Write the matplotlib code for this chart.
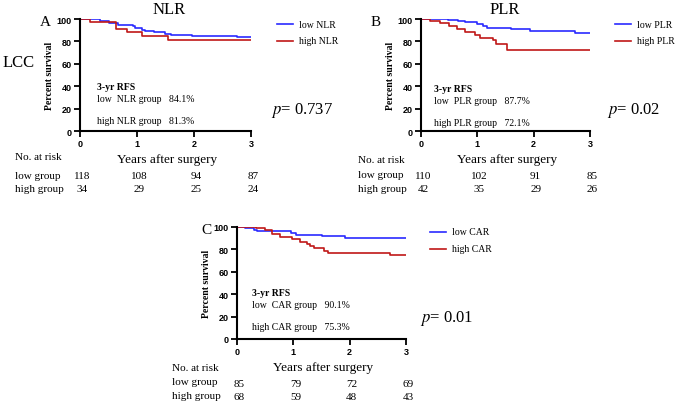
import numpy as np
import matplotlib.pyplot as plt

plt.rcParams['mathtext.fontset'] = 'stix'

# Kaplan-Meier step data (years, percent survival)
nlr_low_t = [0, 0.35, 0.5, 0.67, 0.93, 0.96, 1.08, 1.14, 1.29, 1.49, 1.6, 1.96, 2.75, 3]
nlr_low_s = [100, 98, 96.5, 95, 93.5, 92, 90.5, 89.5, 88, 87, 86, 85, 84.1, 84.1]
nlr_high_t = [0, 0.18, 0.64, 0.82, 1.08, 1.55, 3]
nlr_high_s = [100, 97, 91, 88, 85, 81.3, 81.3]

plr_low_t = [0, 0.48, 0.66, 0.78, 0.99, 1.1, 1.17, 1.6, 1.93, 2.73, 3]
plr_low_s = [100, 99, 98, 97, 95.5, 94, 92, 91, 89, 87.7, 87.7]
plr_high_t = [0, 0.16, 0.34, 0.49, 0.64, 0.78, 0.96, 1.05, 1.28, 1.34, 1.52, 3]
plr_high_s = [100, 98, 96, 94, 91, 88, 86, 83, 81, 78, 72.1, 72.1]

car_low_t = [0, 0.15, 0.3, 0.36, 0.95, 1.04, 1.5, 1.92, 3]
car_low_s = [100, 99, 97, 96, 95, 93, 92, 90.1, 90.1]
car_high_t = [0, 0.33, 0.5, 0.62, 0.77, 0.98, 1.12, 1.24, 1.3, 1.37, 1.54, 1.62, 2.72, 3]
car_high_s = [100, 99, 97, 94, 91, 89, 87, 85, 83, 81, 79, 77, 75.3, 75.3]

risk_nlr_low = [118, 108, 94, 87]
risk_nlr_high = [34, 29, 25, 24]
risk_plr_low = [110, 102, 91, 85]
risk_plr_high = [42, 35, 29, 26]
risk_car_low = [85, 79, 72, 69]
risk_car_high = [68, 59, 48, 43]

W, H = 677, 410
BLUE = '#2a2aff'
RED = '#c01818'
SERIF = 'Liberation Serif'
SANS = 'Liberation Sans'

fig = plt.figure(figsize=(W / 100, H / 100), dpi=100)


def fx(x):
    return x / W


def fy(y):
    return 1 - y / H


def txt(x, y, s, size=8, ha='left', va='center', **kw):
    fig.text(fx(x), fy(y), s, ha=ha, va=va, fontsize=size, family=SERIF, **kw)


def panel(left, right, top, bottom, low, high, name, lowv, highv, pval,
          risk_low, risk_high, letter, letter_x, leg_x, p_x, tx, ty):
    ax = fig.add_axes([fx(left), fy(bottom), fx(right - left), (bottom - top) / H])
    ax.step(low[0], low[1], where='post', color=BLUE, lw=1.2)
    ax.step(high[0], high[1], where='post', color=RED, lw=1.2)
    ax.set_xlim(0, 3)
    ax.set_ylim(0, 100)
    ax.set_xticks([0, 1, 2, 3])
    ax.set_yticks([0, 20, 40, 60, 80, 100])
    for sp in ['top', 'right']:
        ax.spines[sp].set_visible(False)
    for sp in ['left', 'bottom']:
        ax.spines[sp].set_linewidth(1.5)
    ax.tick_params(width=1.3, length=4, labelsize=6.5, pad=2)
    for lab in ax.get_xticklabels() + ax.get_yticklabels():
        lab.set_fontweight('bold')
        lab.set_family(SANS)
    ax.set_ylabel('Percent survival', family=SERIF, fontweight='bold', fontsize=7, labelpad=2)

    # RFS text inside axes
    txt(tx, ty, '3-yr RFS', size=7, fontweight='bold')
    txt(tx, ty + 12, f'low  {name} group   {lowv}', size=7)
    txt(tx, ty + 34, f'high {name} group   {highv}', size=7)

    # legend
    fig.add_artist(plt.Line2D([fx(leg_x), fx(leg_x + 16)], [fy(top + 5), fy(top + 5)], color=BLUE, lw=1.2))
    fig.add_artist(plt.Line2D([fx(leg_x), fx(leg_x + 16)], [fy(top + 22), fy(top + 22)], color=RED, lw=1.2))
    txt(leg_x + 22, top + 5, f'low {name}', size=7)
    txt(leg_x + 22, top + 22, f'high {name}', size=7)

    # p value
    fig.text(fx(p_x), fy(top + 91), f'$p$= {pval}', fontsize=12, family=SERIF, va='center')

    txt(letter_x, top + 2, letter, size=11)

    # x label and risk table
    txt((left + right) / 2 + 2, bottom + 28, 'Years after surgery', size=9.5, ha='center')
    xs = [left + (right - left) * i / 3 for i in range(4)]
    for i in range(4):
        txt(xs[i] + 2, bottom + 45, str(risk_low[i]), size=8, ha='center')
        txt(xs[i] + 2, bottom + 58, str(risk_high[i]), size=8, ha='center')


panel(80, 251, 20, 132, (nlr_low_t, nlr_low_s), (nlr_high_t, nlr_high_s), 'NLR',
      '84.1%', '81.3%', '0.737', risk_nlr_low, risk_nlr_high, 'A', 40, 277, 271, 97, 87)
txt(15, 158, 'No. at risk', size=8)
txt(15, 177, 'low group', size=8)
txt(15, 190, 'high group', size=8)
txt(169, 10, 'NLR', size=12, ha='center')
txt(3, 63, 'LCC', size=12)

panel(421, 590, 20, 132, (plr_low_t, plr_low_s), (plr_high_t, plr_high_s), 'PLR',
      '87.7%', '72.1%', '0.02', risk_plr_low, risk_plr_high, 'B', 371, 615, 607, 434, 90)
txt(358, 161, 'No. at risk', size=8)
txt(358, 176, 'low group', size=8)
txt(358, 190, 'high group', size=8)
txt(505, 10, 'PLR', size=12, ha='center')

panel(237, 406, 228, 340, (car_low_t, car_low_s), (car_high_t, car_high_s), 'CAR',
      '90.1%', '75.3%', '0.01', risk_car_low, risk_car_high, 'C', 201, 430, 420, 252, 294)
txt(172, 369, 'No. at risk', size=8)
txt(172, 383, 'low group', size=8)
txt(172, 397, 'high group', size=8)

fig.savefig('out.png', dpi=100)
